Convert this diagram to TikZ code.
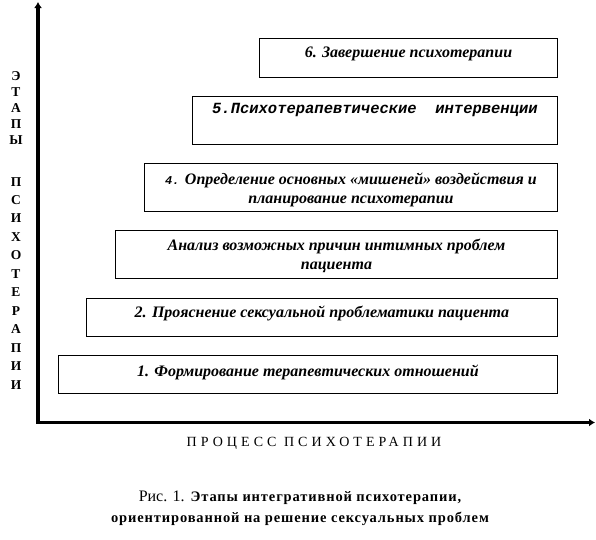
\documentclass[tikz,border=0pt]{standalone}
\usepackage{fontspec}
\setmainfont{Liberation Serif}
\newfontfamily\stagemono{Liberation Mono}
\usetikzlibrary{arrows.meta}

\begin{document}
\begin{tikzpicture}[x=1pt, y=-1pt,
            stagebox/.style={
                draw,
                line width=0.9pt,
                fill=white,
                inner sep=0pt,
                anchor=north west
            },
            stagetext/.style={
                font=\fontsize{16}{18.5}\selectfont\bfseries\itshape,
                inner sep=0pt,
                align=center
            },
            axisline/.style={
                line width=3.8pt,
                {Latex[length=6pt,width=8pt]}-{Latex[length=6pt,width=8pt]}
            },
            axislabel/.style={
                font=\fontsize{13.5}{16}\selectfont\bfseries,
                inner sep=0pt,
                align=center,
                anchor=north
            }
        ]

        \useasboundingbox (0,0) rectangle (596,539);

        % Axes (corner bottom left)
        \coordinate (origin) at (38,422.5);
        \coordinate (ytip) at (38,2);
        \coordinate (xtip) at (595,422.5);
        \draw[axisline] (ytip) -- (origin) -- (xtip);

        % Vertical axis title, one letter per line
        \node[axislabel] (ytitletop) at (16,71)
            {Э\\Т\\А\\П\\Ы};
        \node[axislabel, font=\fontsize{13.5}{18.45}\selectfont\bfseries]
            (ytitlebottom) at (16,177)
            {П\\С\\И\\Х\\О\\Т\\Е\\Р\\А\\П\\И\\И};

        % Horizontal axis title
        \node[font=\fontsize{14}{14}\selectfont\addfontfeature{LetterSpace=29}]
            (xtitle) at (314,443) {ПРОЦЕСС ПСИХОТЕРАПИИ};

        % Stage 6
        \node[stagebox,
            minimum width=298pt,
            minimum height=39pt
        ] (stage6) at (259,38) {};

        \node[stagetext] (label6)
            at ([yshift=-16pt] stage6.north)
            {6. Завершение психотерапии};

        % Stage 5
        \node[stagebox,
            minimum width=365pt,
            minimum height=48pt
        ] (stage5) at (192,96) {};

        \node[stagetext, font=\fontsize{15.5}{18}\selectfont\bfseries\itshape\stagemono]
            (label5) at ([yshift=-14pt] stage5.north)
            {5.Психотерапевтические\ \ интервенции};

        % Stage 4
        \node[stagebox,
            minimum width=413pt,
            minimum height=48pt
        ] (stage4) at (144,163) {};

        \node[stagetext] (label4)
            at ([yshift=-27pt] stage4.north)
            {{\stagemono\fontsize{12}{12}\selectfont 4.} Определение основных «мишеней» воздействия и\\
             планирование психотерапии};

        % Stage 3
        \node[stagebox,
            minimum width=442pt,
            minimum height=48pt
        ] (stage3) at (115,230) {};

        \node[stagetext] (label3)
            at ([yshift=-26pt] stage3.north)
            {Анализ возможных причин интимных проблем\\
             пациента};

        % Stage 2
        \node[stagebox,
            minimum width=471pt,
            minimum height=38pt
        ] (stage2) at (86,298) {};

        \node[stagetext] (label2)
            at ([yshift=-15pt] stage2.north)
            {2. Прояснение сексуальной проблематики пациента};

        % Stage 1
        \node[stagebox,
            minimum width=499pt,
            minimum height=38pt
        ] (stage1) at (58,355) {};

        \node[stagetext] (label1)
            at ([yshift=-17pt] stage1.north)
            {1. Формирование терапевтических отношений};

        % Caption
        \node[align=center, inner sep=0pt,
            font=\fontsize{14.5}{21}\selectfont\bfseries\addfontfeature{LetterSpace=6}]
            (caption) at (300,508)
            {{\mdseries\fontsize{16}{21}\selectfont\addfontfeature{LetterSpace=0}Рис. 1.} Этапы интегративной психотерапии,\\
             ориентированной на решение сексуальных проблем};
        \end{tikzpicture}
\end{document}
